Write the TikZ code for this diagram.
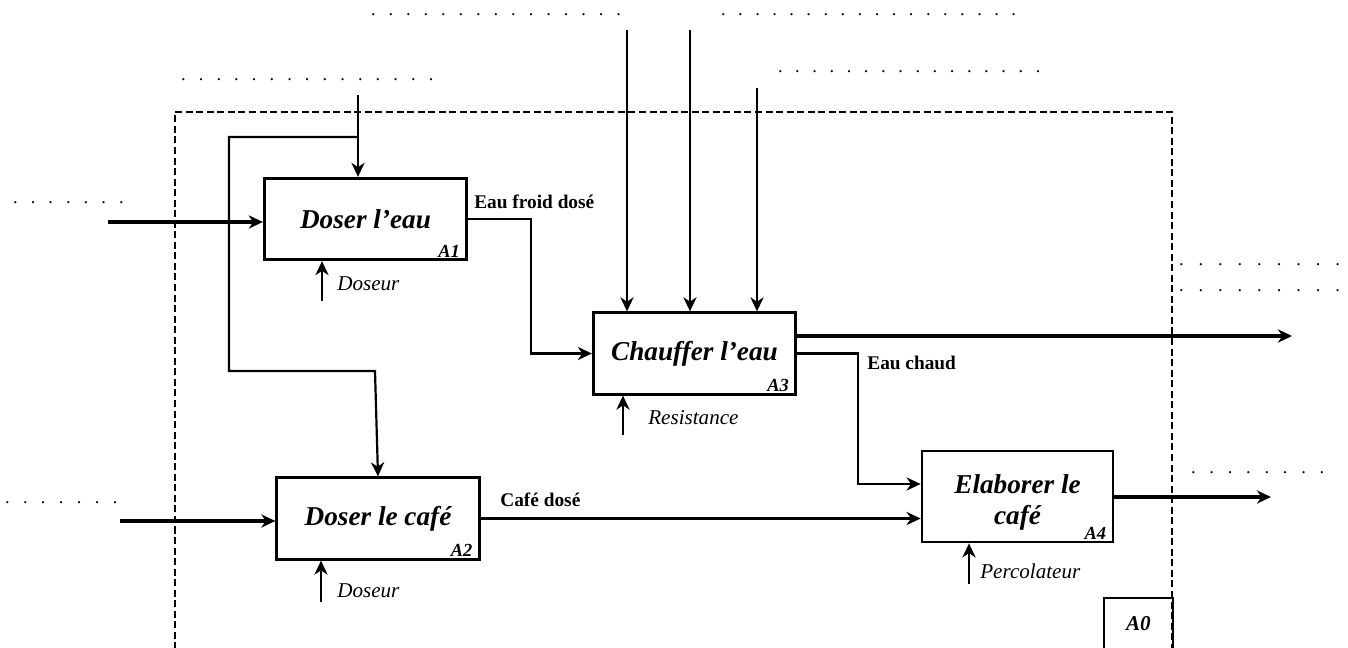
\documentclass[tikz,border=0pt]{standalone}
\usepackage{fontspec}
\setmainfont{Liberation Serif}
\usetikzlibrary{arrows.meta,positioning,calc}
\newcommand{\dotrow}[2]{\makebox[#1][l]{\xleaders\hbox to #2{\hss.\hss}\hfill}}

\begin{document}
\begin{tikzpicture}[
    x=0.02cm, y=-0.02cm,
    >={Stealth[length=8pt,width=7.5pt,inset=2.5pt]},
    func/.style={rectangle, draw=black, line width=1.6pt, minimum width=4.05cm, minimum height=1.63cm, align=center, font=\fontsize{15.5}{17.5}\selectfont\bfseries\itshape},
    tag/.style={anchor=south east, inner xsep=4.5pt, inner ysep=2pt, font=\fontsize{10.5}{12}\selectfont\bfseries\itshape},
    flow/.style={->, line width=1.25pt},
    bigflow/.style={->, line width=2.4pt},
    flowlabel/.style={anchor=base west, inner sep=0pt, font=\fontsize{11}{13}\selectfont\bfseries},
    mechlabel/.style={anchor=base west, inner sep=0pt, font=\fontsize{12}{14}\selectfont\itshape},
    dots/.style={anchor=base west, inner sep=0pt, font=\fontsize{10.5}{12}\selectfont},
    frame/.style={dash pattern=on 4pt off 2pt, line width=0.9pt}
]
\useasboundingbox (0,0) rectangle (1348,648);

\draw[frame] (175,660) -- (175,112) -- (1172,112) -- (1172,660);
\node[draw, line width=1.1pt, minimum width=1.38cm, minimum height=1.04cm, anchor=north west, font=\fontsize{12}{14}\selectfont\bfseries\itshape] (a0) at (1103,597) {A0};

\node[func] (a1) at (365.5,219) {Doser l’eau};
\node[func] (a2) at (378,518.5) {Doser le café};
\node[func] (a3) at (694.5,353.5) {Chauffer l’eau};
\node[func, minimum width=3.82cm, minimum height=1.82cm, text height=35pt] (a4) at (1017.5,496.5) {Elaborer le\\café};
\node[tag] at (a1.south east) {A1};
\node[tag] at (a2.south east) {A2};
\node[tag] at (a3.south east) {A3};
\node[tag] at (a4.south east) {A4};

\coordinate (in1) at (108,222);
\coordinate (in2) at (120,521);
\coordinate (c1) at (358,95);
\coordinate (j1) at (229,137);
\coordinate (j2) at (229,371);
\coordinate (j3) at (375,371);
\coordinate (k1) at (531,280);
\coordinate (k3) at (858,484);
\coordinate (t1) at (627,30);
\coordinate (t2) at (690,30);
\coordinate (t3) at (757,88);
\coordinate (m1) at (322,301);
\coordinate (m2) at (321,602);
\coordinate (m3) at (623,435);
\coordinate (m4) at (969,584);
\coordinate (o3) at (1292,336);
\coordinate (o4) at (1271,497);

\draw[bigflow] (in1) -- (in1 -| a1.west);
\draw[bigflow] (in2) -- (in2 -| a2.west);
\draw[flow] (c1) -- (c1 |- a1.north);
\draw[flow] (c1 |- j1) -- (j1) -- (j2) -- (j3) -- (a2.north);
\draw[flow] (a1.east) -| (k1) |- (a3.west);
\draw[flow] (t1) -- (t1 |- a3.north);
\draw[flow] (t2) -- (t2 |- a3.north);
\draw[flow] (t3) -- (t3 |- a3.north);
\draw[bigflow] (o3 -| a3.east) -- (o3);
\draw[flow] (a3.east) -| (k3) -- (k3 -| a4.west);
\draw[flow] (a2.east) -- (a2.east -| a4.west);
\draw[bigflow] (o4 -| a4.east) -- (o4);
\draw[flow] (m1) -- (m1 |- a1.south);
\draw[flow] (m2) -- (m2 |- a2.south);
\draw[flow] (m3) -- (m3 |- a3.south);
\draw[flow] (m4) -- (m4 |- a4.south);

\node[flowlabel] (l1) at (474,209) {Eau froid dosé};
\node[flowlabel] (l2) at (867,369) {Eau chaud};
\node[flowlabel] (l3) at (500,506) {Café dosé};
\node[mechlabel] (n1) at (337,291) {Doseur};
\node[mechlabel] (n2) at (337,597) {Doseur};
\node[mechlabel] (n3) at (648,424) {Resistance};
\node[mechlabel] (n4) at (980,578) {Percolateur};

\node[dots] (d1) at (364.2,16) {\dotrow{5.26cm}{0.35cm}};
\node[dots] (d2) at (174.2,81) {\dotrow{5.31cm}{0.353cm}};
\node[dots] (d3) at (714.5,16) {\dotrow{6.15cm}{0.341cm}};
\node[dots] (d4) at (771.4,73) {\dotrow{5.5cm}{0.343cm}};
\node[dots] (d5) at (6.2,204) {\dotrow{2.474cm}{0.352cm}};
\node[dots] (d6) at (-2,503) {\dotrow{2.516cm}{0.358cm}};
\node[dots] (d7) at (1171.2,266) {\dotrow{3.52cm}{0.39cm}};
\node[dots] (d8) at (1171.2,292) {\dotrow{3.52cm}{0.39cm}};
\node[dots] (d9) at (1183.8,473) {\dotrow{2.94cm}{0.366cm}};
\end{tikzpicture}
\end{document}
